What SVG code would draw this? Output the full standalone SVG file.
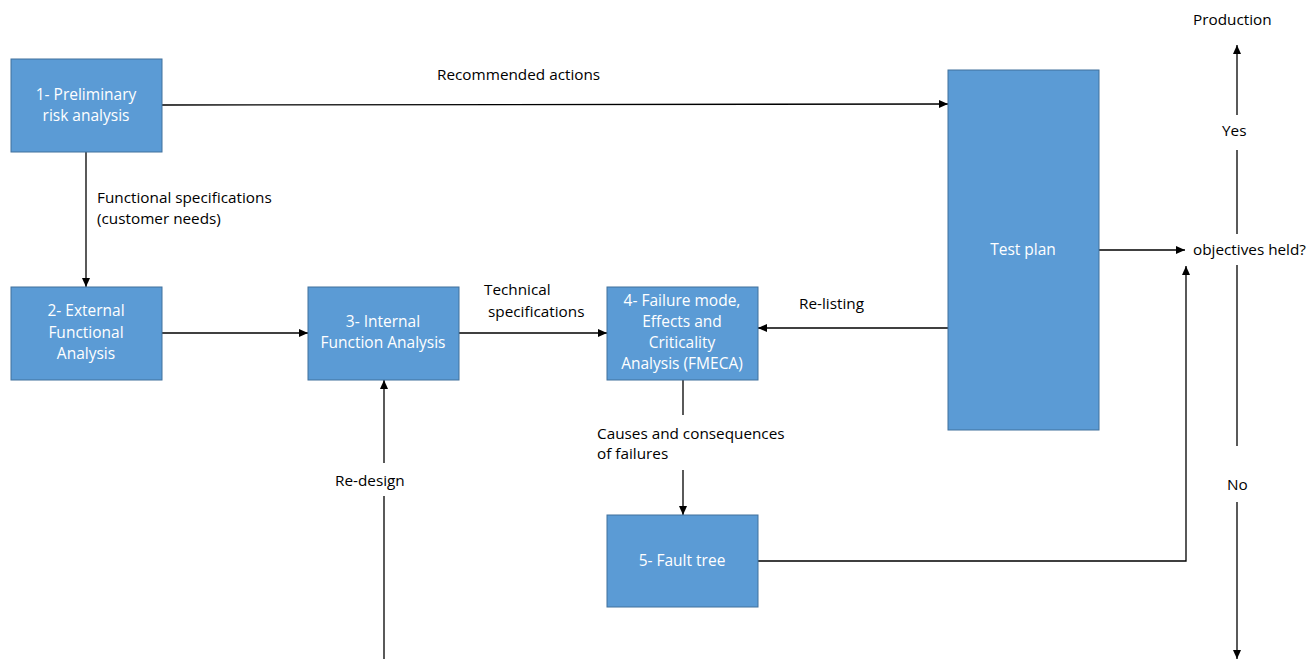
<svg xmlns="http://www.w3.org/2000/svg" width="1311" height="659" viewBox="0 0 1311 659">
<defs>
<marker id="ah" markerWidth="11" markerHeight="11" refX="10" refY="5.5" orient="auto" markerUnits="userSpaceOnUse">
<path d="M1,1.5 L10,5.5 L1,9.5 Z" fill="#000"/>
</marker>
<style>
.box{fill:#5b9bd5;stroke:#41719c;stroke-width:1}
.bt{font-family:"Open Sans","Liberation Sans",sans-serif;font-size:15.5px;fill:#fff;text-anchor:middle}
.lb{font-family:"Open Sans","Liberation Sans",sans-serif;font-size:15.3px;fill:#000}
.ln{fill:none;stroke:#000;stroke-width:1.3}
</style>
</defs>
<rect width="1311" height="659" fill="#fff"/>
<g id="connectors">
<path class="ln" d="M162,105 L948,104" marker-end="url(#ah)"/>
<path class="ln" d="M86,152 L86,287" marker-end="url(#ah)"/>
<path class="ln" d="M162,333 L308,333" marker-end="url(#ah)"/>
<path class="ln" d="M459,333 L607,333" marker-end="url(#ah)"/>
<path class="ln" d="M948,328 L758,328" marker-end="url(#ah)"/>
<path class="ln" d="M683,380 L683,415"/>
<path class="ln" d="M683,470 L683,515" marker-end="url(#ah)"/>
<path class="ln" d="M758,561 L1186,561 L1186,266" marker-end="url(#ah)"/>
<path class="ln" d="M1099,250 L1185,250" marker-end="url(#ah)"/>
<path class="ln" d="M1237,234 L1237,150"/>
<path class="ln" d="M1237,115 L1237,45" marker-end="url(#ah)"/>
<path class="ln" d="M1237,265 L1237,446"/>
<path class="ln" d="M1237,502 L1237,659" marker-end="url(#ah)"/>
<path class="ln" d="M384,659 L384,496"/>
<path class="ln" d="M384,463 L384,380" marker-end="url(#ah)"/>
<text class="lb" x="437" y="80">Recommended actions</text>
<text class="lb" x="97" y="203">Functional specifications</text>
<text class="lb" x="97" y="224">(customer needs)</text>
<text class="lb" x="484" y="295">Technical</text>
<text class="lb" x="488" y="317">specifications</text>
<text class="lb" x="799" y="309">Re-listing</text>
<text class="lb" x="597" y="439">Causes and consequences</text>
<text class="lb" x="597" y="459">of failures</text>
<text class="lb" x="1193" y="255">objectives held?</text>
<text class="lb" x="1193" y="25">Production</text>
<text class="lb" x="1222" y="136">Yes</text>
<text class="lb" x="1227" y="490">No</text>
<text class="lb" x="335" y="486">Re-design</text>
</g>
<g id="n1"><rect class="box" x="11" y="59" width="151" height="93"/>
<text class="bt" x="86" y="100">1- Preliminary</text><text class="bt" x="86" y="121">risk analysis</text></g>
<g id="n2"><rect class="box" x="11" y="287" width="151" height="93"/>
<text class="bt" x="86" y="316">2- External</text><text class="bt" x="86" y="338">Functional</text><text class="bt" x="86" y="359">Analysis</text></g>
<g id="n3"><rect class="box" x="308" y="287" width="151" height="93"/>
<text class="bt" x="383" y="327">3- Internal</text><text class="bt" x="383" y="348">Function Analysis</text></g>
<g id="n4"><rect class="box" x="607" y="287" width="151" height="93"/>
<text class="bt" x="682" y="306">4- Failure mode,</text><text class="bt" x="682" y="327">Effects and</text><text class="bt" x="682" y="348">Criticality</text><text class="bt" x="682" y="369">Analysis (FMECA)</text></g>
<g id="n5"><rect class="box" x="607" y="515" width="151" height="92"/>
<text class="bt" x="682" y="566">5- Fault tree</text></g>
<g id="testplan"><rect class="box" x="948" y="70" width="151" height="360"/>
<text class="bt" x="1023" y="255">Test plan</text></g>
</svg>
